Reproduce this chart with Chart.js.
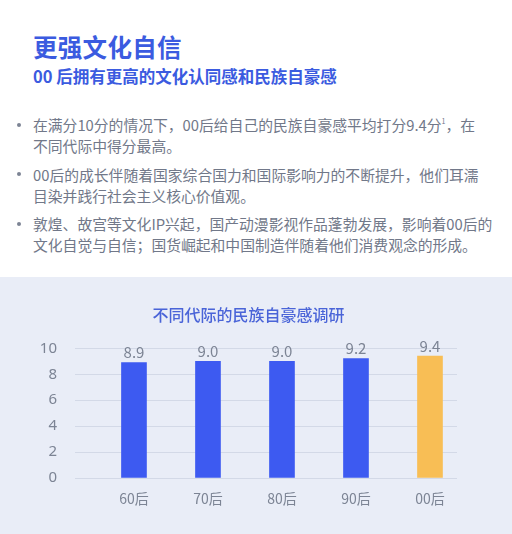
<!DOCTYPE html>
<html>
<head>
<meta charset="utf-8">
<script src="https://cdn.jsdelivr.net/npm/chart.js@4/dist/chart.umd.min.js"></script>
<style>
  body { margin: 0; width: 512px; height: 534px; overflow: hidden; background: #fff; position: relative;
         font-family: "Noto Sans CJK SC", "Noto Sans", sans-serif; }
  .title { position: absolute; left: 33px; top: 32px; font-size: 24.5px; line-height: 29px; font-weight: 700; color: #3b5be0; letter-spacing: 0.3px; }
  .sub { position: absolute; left: 33px; top: 66px; font-size: 16.5px; line-height: 20px; font-weight: 700; color: #3b5be0; }
  .bullets { position: absolute; left: 33px; top: 114px; font-size: 14.8px; line-height: 21px; color: #717889; white-space: nowrap; }
  .bullets p { margin: 0 0 7.5px 0; position: relative; }
  .bullets p::before { content: ""; position: absolute; left: -16px; top: 8.5px; width: 4px; height: 4px; border-radius: 50%; background: #7c8494; }
  .bullets sup { font-size: 7px; vertical-align: 7px; line-height: 0; }
  .panel { position: absolute; left: 0; top: 277px; width: 512px; height: 257px; background: #e9edf7; }
</style>
</head>
<body>
<div class="title">更强文化自信</div>
<div class="sub">00 后拥有更高的文化认同感和民族自豪感</div>
<div class="bullets">
  <p>在满分10分的情况下，00后给自己的民族自豪感平均打分9.4分<sup>1</sup>，在<br>不同代际中得分最高。</p>
  <p>00后的成长伴随着国家综合国力和国际影响力的不断提升，他们耳濡<br>目染并践行社会主义核心价值观。</p>
  <p>敦煌、故宫等文化IP兴起，国产动漫影视作品蓬勃发展，影响着00后的<br>文化自觉与自信；国货崛起和中国制造伴随着他们消费观念的形成。</p>
</div>
<div class="panel"><canvas id="prideChart" width="512" height="257"></canvas></div>
<script>
// survey data
const generations = ['60后', '70后', '80后', '90后', '00后'];
const scores = [8.9, 9.0, 9.0, 9.2, 9.4];
const barColors = ['#3d5af1', '#3d5af1', '#3d5af1', '#3d5af1', '#f8be55'];
const yTicks = [0, 2, 4, 6, 8, 10];

const grayText = '#7c8494';

// value labels above the bars
const valueLabels = {
    id: 'valueLabels',
    afterDatasetsDraw(chart) {
        const ctx = chart.ctx;
        const meta = chart.getDatasetMeta(0);
        ctx.save();
        ctx.font = '15px "Noto Sans CJK SC", "Noto Sans", sans-serif';
        ctx.fillStyle = grayText;
        ctx.textAlign = 'center';
        ctx.textBaseline = 'middle';
        meta.data.forEach((bar, i) => {
            ctx.fillText(scores[i].toFixed(1), bar.x, bar.y - 10);
        });
        ctx.restore();
    }
};

const ctx = document.getElementById('prideChart').getContext('2d');
new Chart(ctx, {
    type: 'bar',
    data: {
        datasets: [{
            data: generations.map((g, i) => ({ x: i, y: scores[i] })),
            backgroundColor: barColors,
            borderWidth: 0,
            barThickness: 25
        }]
    },
    options: {
        responsive: false,
        animation: false,
        layout: { padding: { left: 40, right: 55, top: 0, bottom: 0 } },
        plugins: {
            legend: { display: false },
            tooltip: { enabled: false },
            title: {
                display: true,
                text: '不同代际的民族自豪感调研',
                color: '#4a64d8',
                font: { size: 16, weight: '500', family: '"Noto Sans CJK SC", sans-serif' },
                padding: { top: 28.4, bottom: 23.7 }
            }
        },
        scales: {
            x: {
                type: 'linear',
                offset: false,
                min: -0.797,
                max: 4.365,
                grid: { display: false, drawTicks: false },
                border: { display: false },
                afterBuildTicks: scale => { scale.ticks = generations.map((g, i) => ({ value: i })); },
                afterFit: scale => { scale.height = 56; },
                ticks: {
                    padding: 12,
                    color: grayText,
                    font: { size: 14, family: '"Noto Sans CJK SC", sans-serif' },
                    callback: v => generations[v]
                }
            },
            y: {
                min: 0,
                max: 10,
                afterBuildTicks: scale => { scale.ticks = yTicks.map(v => ({ value: v })); },
                afterFit: scale => { scale.width = 35; },
                grid: { color: '#d3d9e7', drawTicks: false, lineWidth: 1 },
                border: { display: false },
                ticks: {
                    padding: 18,
                    color: grayText,
                    font: { size: 15, family: '"Noto Sans", sans-serif' }
                }
            }
        }
    },
    plugins: [valueLabels]
});
</script>
</body>
</html>
